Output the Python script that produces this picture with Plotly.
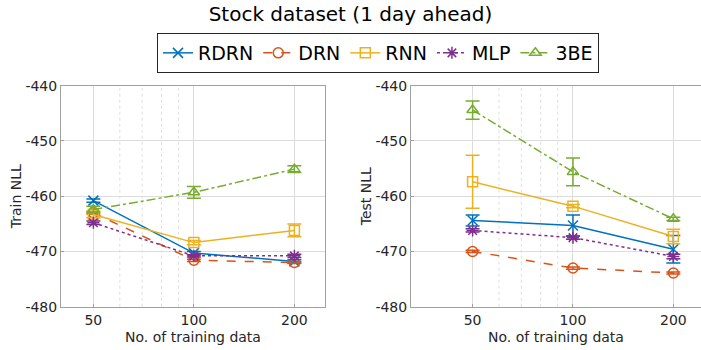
import plotly.graph_objects as go
import math

# ---------------- data ----------------
n_train = [50, 100, 200]
series_names = ["RDRN", "DRN", "RNN", "MLP", "3BE"]

train_rdrn = [-460.8, -470.3, -471.8]
train_drn = [-463.0, -471.6, -472.0]
train_rnn = [-463.3, -468.4, -466.2]
train_mlp = [-464.8, -470.8, -470.8]
train_3be = [-462.4, -459.3, -455.1]

train_rdrn_err = [0.3, 0.3, 0.3]
train_drn_err = [0.2, 0.2, 0.2]
train_rnn_err = [0.6, 0.4, 1.15]
train_mlp_err = [0.3, 0.2, 0.3]
train_3be_err = [0.6, 1.05, 0.6]

test_rdrn = [-464.4, -465.3, -469.6]
test_drn = [-470.0, -473.0, -473.9]
test_rnn = [-457.4, -461.8, -467.3]
test_mlp = [-466.2, -467.5, -470.9]
test_3be = [-444.4, -455.6, -464.1]

test_rdrn_err = [1.0, 1.9, 2.5]
test_drn_err = [0.2, 0.2, 0.2]
test_rnn_err = [4.8, 0.3, 1.3]
test_mlp_err = [0.3, 0.3, 0.4]
test_3be_err = [1.65, 2.5, 0.3]

y_ticks = [-480, -470, -460, -450, -440]
y_tick_labels = ["-480", "-470", "-460", "-450", "-440"]
x_ticks = [50, 100, 200]
x_tick_labels = ["50", "100", "200"]
x_minor = [60, 70, 80, 90]

colors = ["#0072BD", "#D95319", "#EDB120", "#7E2F8E", "#77AC30"]
dashes = ["solid", "dash", "solid", "dot", "dashdot"]
symbols = ["x-thin-open", "circle-open", "square-open", "asterisk-open", "triangle-up-open"]

train_vals = [train_rdrn, train_drn, train_rnn, train_mlp, train_3be]
train_errs = [train_rdrn_err, train_drn_err, train_rnn_err, train_mlp_err, train_3be_err]
test_vals = [test_rdrn, test_drn, test_rnn, test_mlp, test_3be]
test_errs = [test_rdrn_err, test_drn_err, test_rnn_err, test_mlp_err, test_3be_err]

FONT = "DejaVu Sans"
TXT = "#262626"

fig = go.Figure()
for panel, (vals, errs) in enumerate([(train_vals, train_errs), (test_vals, test_errs)]):
    xa = "x" if panel == 0 else "x2"
    ya = "y" if panel == 0 else "y2"
    for i, name in enumerate(series_names):
        fig.add_trace(go.Scatter(
            x=n_train, y=vals[i], name=name, xaxis=xa, yaxis=ya,
            mode="lines+markers", showlegend=(panel == 0),
            line=dict(color=colors[i], width=1.5, dash=dashes[i]),
            marker=dict(symbol=symbols[i], size=10, color=colors[i],
                        line=dict(color=colors[i], width=1.5)),
            error_y=dict(type="data", array=errs[i], visible=True,
                         color=colors[i], thickness=1.5, width=7),
        ))

# minor (dotted) log grid lines between 50 and 100
for xr, yr in [("x", "y domain"), ("x2", "y2 domain")]:
    for v in x_minor:
        fig.add_shape(type="line", xref=xr, yref=yr, x0=v, x1=v, y0=0, y1=1,
                      line=dict(color="#dedede", width=1, dash="dot"), layer="below")

W, H = 701, 350
ydom = [1 - 306.7 / H, 1 - 85.7 / H]


def xaxis(dom, rng):
    return dict(
        domain=dom, type="log", range=rng,
        tickmode="array", tickvals=x_ticks, ticktext=x_tick_labels,
        showgrid=True, gridcolor="#dcdcdc", gridwidth=1,
        showline=True, linecolor="#a0a0a0", linewidth=1, mirror=True,
        ticks="inside", ticklen=3, tickcolor="#a0a0a0",
        tickfont=dict(family=FONT, size=14, color=TXT),
        title=dict(text="No. of training data", font=dict(family=FONT, size=14, color=TXT), standoff=5),
        zeroline=False, automargin=False,
    )


def yaxis(dom, title, anchor, mirror):
    return dict(
        domain=dom, range=[-480, -440], anchor=anchor,
        tickmode="array", tickvals=y_ticks, ticktext=y_tick_labels,
        showgrid=True, gridcolor="#dcdcdc", gridwidth=1,
        showline=True, linecolor="#a0a0a0", linewidth=1, mirror=mirror,
        ticks="inside", ticklen=3, tickcolor="#a0a0a0",
        tickfont=dict(family=FONT, size=14, color=TXT),
        title=dict(text=title, font=dict(family=FONT, size=14, color=TXT), standoff=0),
        zeroline=False, automargin=False,
    )


fig.update_layout(
    width=W, height=H,
    margin=dict(l=0, r=0, t=0, b=0),
    paper_bgcolor="white", plot_bgcolor="white",
    font=dict(family=FONT, color=TXT),
    title=dict(text="Stock dataset (1 day ahead)", x=0.5, xanchor="center",
               y=1 - 14 / H, yanchor="middle",
               font=dict(family=FONT, size=20, color="#000000")),
    xaxis=xaxis([61 / W, 325 / W], [math.log10(40), math.log10(247)]),
    xaxis2=xaxis([411 / W, 1.0], [1.5142, 2.3840]),
    yaxis=yaxis(ydom, "Train NLL", "x", True),
    yaxis2=yaxis(ydom, "Test NLL", "x2", False),
    legend=dict(orientation="h", x=378 / W, xanchor="center", y=1 - 33 / H, yanchor="top",
                bordercolor="#262626", borderwidth=1, bgcolor="white",
                font=dict(family=FONT, size=19, color="#000000"),
                itemwidth=30, tracegroupgap=0),
    showlegend=True,
)

fig.write_html("out.html")
